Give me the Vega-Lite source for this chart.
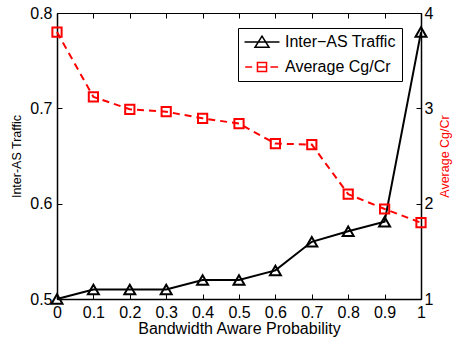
{
  "$schema": "https://vega.github.io/schema/vega-lite/v6.json",
  "width": 364,
  "height": 286,
  "autosize": {"type": "none"},
  "padding": {"left": 57, "top": 13, "right": 34, "bottom": 40},
  "background": "white",
  "config": {
    "view": {"stroke": "black", "strokeWidth": 1},
    "font": "Liberation Sans",
    "axis": {
      "grid": false,
      "domainColor": "black",
      "domainWidth": 1.5,
      "tickColor": "black",
      "tickWidth": 1,
      "tickSize": -5,
      "labelColor": "black",
      "labelFont": "Liberation Sans",
      "labelFontSize": 16,
      "titleFont": "Liberation Sans",
      "titleFontWeight": "normal",
      "titleColor": "black"
    }
  },
  "data": {
    "values": [
      {"p": 0.0, "traffic": 0.50, "ratio": 3.80},
      {"p": 0.1, "traffic": 0.51, "ratio": 3.12},
      {"p": 0.2, "traffic": 0.51, "ratio": 2.99},
      {"p": 0.3, "traffic": 0.51, "ratio": 2.965},
      {"p": 0.4, "traffic": 0.52, "ratio": 2.895},
      {"p": 0.5, "traffic": 0.52, "ratio": 2.84},
      {"p": 0.6, "traffic": 0.53, "ratio": 2.63},
      {"p": 0.7, "traffic": 0.56, "ratio": 2.62},
      {"p": 0.8, "traffic": 0.571, "ratio": 2.10},
      {"p": 0.9, "traffic": 0.581, "ratio": 1.944},
      {"p": 1.0, "traffic": 0.78, "ratio": 1.80}
    ]
  },
  "layer": [
    {
      "encoding": {
        "x": {
          "field": "p", "type": "quantitative",
          "scale": {"domain": [0, 1], "nice": false},
          "axis": {
            "orient": "bottom",
            "values": [0, 0.1, 0.2, 0.3, 0.4, 0.5, 0.6, 0.7, 0.8, 0.9, 1],
            "format": "~g",
            "labelPadding": 10,
            "labelFlush": false,
            "title": "Bandwidth Aware Probability",
            "titleFontSize": 16,
            "titlePadding": 0
          }
        },
        "y": {
          "field": "traffic", "type": "quantitative",
          "scale": {"domain": [0.5, 0.8], "nice": false, "zero": false},
          "axis": {
            "values": [0.5, 0.6, 0.7, 0.8],
            "format": ".1f",
            "labelPadding": 10,
            "title": "Inter-AS Traffic",
            "titleFontSize": 12.5,
            "titlePadding": 6
          }
        }
      },
      "layer": [
        {
          "mark": {"type": "line", "strokeWidth": 2},
          "encoding": {
            "color": {
              "datum": "Inter−AS Traffic",
              "type": "nominal",
              "scale": {"domain": ["Inter−AS Traffic", "Average Cg/Cr"], "range": ["black", "red"]},
              "legend": {
                "title": null,
                "orient": "none",
                "legendX": 181,
                "legendY": 15,
                "fillColor": "white",
                "strokeColor": "black",
                "padding": 6,
                "labelFont": "Liberation Sans",
                "labelFontSize": 16,
                "labelColor": "black",
                "labelOffset": 15,
                "symbolOffset": 10,
                "symbolSize": 196,
                "rowPadding": 8,
                "symbolStrokeWidth": 1.5,
                "encode": {
                  "symbols": {
                    "update": {
                      "shape": {"signal": "datum.value === 'Inter−AS Traffic' ? 'M-2.5,0H2.5M0,-0.85L1,0.75H-1Z' : 'M-2.4,0H-1.4M-0.65,0H0.65M1.2,0H2.3M-0.65,-0.65H0.65V0.65H-0.65Z'"},
                      "stroke": {"signal": "datum.value === 'Inter−AS Traffic' ? 'black' : 'red'"},
                      "fill": {"value": "transparent"},
                      "strokeDash": {"value": []},
                      "strokeWidth": {"value": 1.5},
                      "size": {"value": 196}
                    }
                  }
                }
              }
            }
          }
        },
        {
          "mark": {"type": "point", "shape": "triangle-up", "filled": false, "strokeWidth": 2, "size": 120, "opacity": 1},
          "encoding": {
            "color": {"datum": "Inter−AS Traffic", "type": "nominal"}
          }
        }
      ]
    },
    {
      "encoding": {
        "x": {
          "field": "p", "type": "quantitative",
          "axis": {"orient": "top", "labels": false, "title": null, "domain": false, "values": [0, 0.1, 0.2, 0.3, 0.4, 0.5, 0.6, 0.7, 0.8, 0.9, 1]}
        },
        "y": {
          "field": "ratio", "type": "quantitative",
          "scale": {"domain": [1, 4], "nice": false, "zero": false},
          "axis": {
            "orient": "right",
            "values": [1, 2, 3, 4],
            "format": "d",
            "labelPadding": 8,
            "title": "Average Cg/Cr",
            "titleColor": "red",
            "titleFontSize": 12.5,
            "titleAngle": 270,
            "titleBaseline": "top",
            "titlePadding": 6
          }
        }
      },
      "layer": [
        {
          "mark": {"type": "line", "strokeWidth": 2, "strokeDash": [7, 5]},
          "encoding": {
            "color": {"datum": "Average Cg/Cr", "type": "nominal"}
          }
        },
        {
          "mark": {"type": "point", "shape": "square", "filled": false, "strokeWidth": 2, "size": 85, "opacity": 1},
          "encoding": {
            "color": {"datum": "Average Cg/Cr", "type": "nominal"}
          }
        }
      ]
    }
  ],
  "resolve": {"scale": {"y": "independent"}, "axis": {"x": "independent", "y": "independent"}}
}
